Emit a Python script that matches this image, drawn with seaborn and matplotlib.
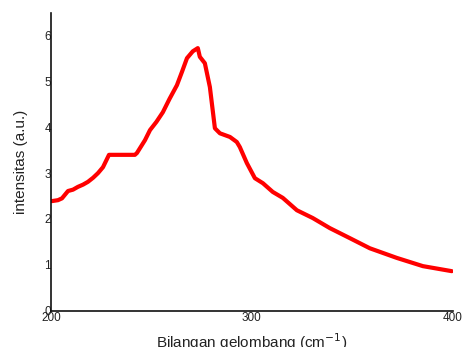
import matplotlib
matplotlib.use("Agg")
import matplotlib.pyplot as plt
import seaborn as sns
import pandas as pd

wavenumber = [200.5, 203.5, 205.5, 208.5, 211.0, 213.4, 216.0, 218.4, 221.0, 223.4, 225.9,
              228.9, 235.0, 241.8, 242.8, 246.8, 249.3, 252.5, 255.7, 259.0, 262.7, 265.2,
              267.7, 270.6, 273.1, 274.1, 276.6, 279.1, 281.6, 284.1, 289.1, 292.5, 294.0,
              297.5, 301.5, 305.5, 310.4, 315.4, 322.4, 330.3, 338.8, 348.8, 358.7, 372.1,
              385.1, 399.5]
intensity = [2.39, 2.41, 2.45, 2.61, 2.64, 2.70, 2.75, 2.81, 2.90, 3.00, 3.13,
             3.40, 3.40, 3.40, 3.44, 3.72, 3.94, 4.12, 4.33, 4.62, 4.92, 5.21,
             5.51, 5.66, 5.73, 5.54, 5.40, 4.88, 3.98, 3.87, 3.79, 3.68, 3.57,
             3.22, 2.89, 2.78, 2.59, 2.46, 2.19, 2.02, 1.80, 1.58, 1.36, 1.15,
             0.97, 0.86]

df = pd.DataFrame({"x": wavenumber, "y": intensity})

sns.set_style("white")
plt.rcParams['font.family'] = ['Liberation Sans', 'DejaVu Sans']

fig = plt.figure(figsize=(4.63, 3.47), dpi=100)
ax = fig.add_axes([0.110, 0.105, 0.868, 0.858])
sns.lineplot(data=df, x="x", y="y", ax=ax, color="#ff0000", linewidth=3.0)

ax.set_xlim(200, 400)
ax.set_ylim(0, 6.5)
ax.set_xticks([200, 300, 400])
ax.set_yticks([0, 1, 2, 3, 4, 5, 6])
ax.tick_params(axis="both", length=0, labelsize=8.5, colors="#222222")
ax.tick_params(axis="y", pad=0)
ax.tick_params(axis="x", pad=1)
for s in ["top", "right"]:
    ax.spines[s].set_visible(False)
for s in ["left", "bottom"]:
    ax.spines[s].set_color("#111111")
    ax.spines[s].set_linewidth(1.2)
ax.set_xlabel("Bilangan gelombang (cm$^{\\mathsf{-1}}$)", fontsize=11, labelpad=5, color="#222222")
ax.set_ylabel("intensitas (a.u.)", fontsize=11, labelpad=12, color="#222222")

fig.savefig("out.png", dpi=100)
